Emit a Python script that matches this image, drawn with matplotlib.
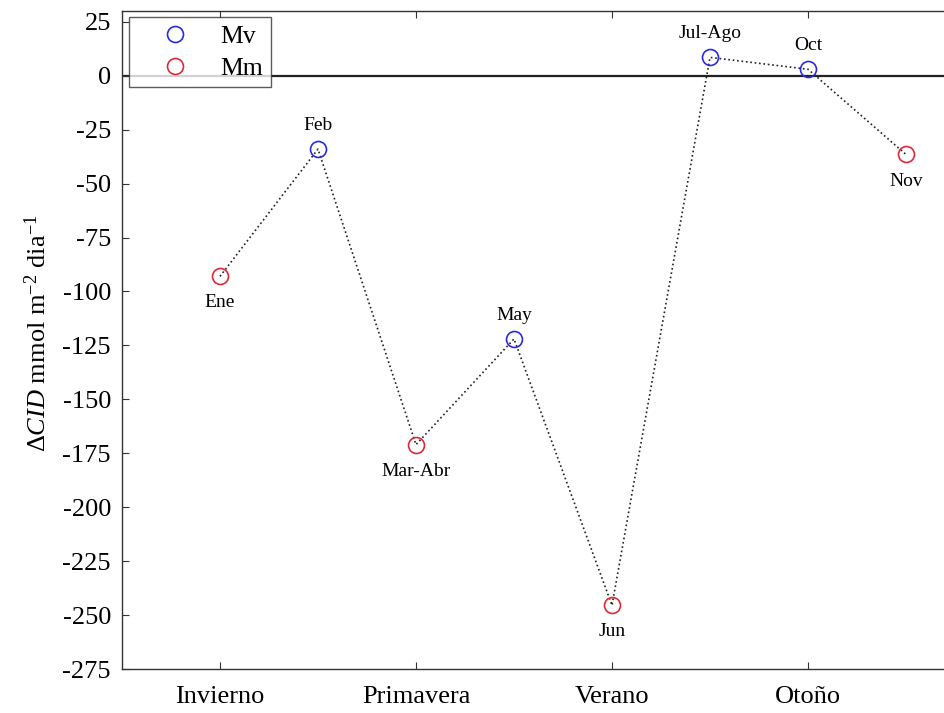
import numpy as np
import matplotlib
matplotlib.use("Agg")
import matplotlib.pyplot as plt

plt.rcParams['font.family'] = ['Liberation Serif', 'DejaVu Serif']
plt.rcParams['mathtext.fontset'] = 'custom'
plt.rcParams['mathtext.rm'] = 'Liberation Serif'
plt.rcParams['mathtext.it'] = 'Liberation Serif:italic'
plt.rcParams['axes.unicode_minus'] = False

# data
months = ['Ene', 'Feb', 'Mar-Abr', 'May', 'Jun', 'Jul-Ago', 'Oct', 'Nov']
xpos = [1, 1.5, 2, 2.5, 3, 3.5, 4, 4.5]
dcid = [-93, -34, -171, -122, -245.5, 8.5, 3, -36.5]
kind = ['Mm', 'Mv', 'Mm', 'Mv', 'Mm', 'Mv', 'Mv', 'Mm']
lab_above = [False, True, False, True, False, True, True, False]
seasons = ['Invierno', 'Primavera', 'Verano', 'Otoño']
season_pos = [1, 2, 3, 4]

fig = plt.figure(figsize=(9.45, 7.13), dpi=100)
ax = fig.add_axes([122 / 945, 44 / 713, 882 / 945, 658 / 713])

ax.axhline(0, color='#222222', lw=1.6, zorder=1)
ax.plot(xpos, dcid, ':', color='#222222', lw=1.2, zorder=2)

cols = {'Mv': '#2a2ae0', 'Mm': '#dc2a36'}
for k in ['Mv', 'Mm']:
    xs = [x for x, t in zip(xpos, kind) if t == k]
    ys = [y for y, t in zip(dcid, kind) if t == k]
    ax.plot(xs, ys, 'o', ms=11.5, mfc='none', mec=cols[k], mew=1.2,
            ls='none', label=k, zorder=3)

for x, y, m, up in zip(xpos, dcid, months, lab_above):
    if up:
        ax.annotate(m, (x, y), xytext=(0, 11), textcoords='offset points',
                    ha='center', va='bottom', fontsize=14)
    else:
        ax.annotate(m, (x, y), xytext=(0, -13), textcoords='offset points',
                    ha='center', va='top', fontsize=14)

ax.set_xlim(0.5, 5)
ax.set_ylim(-275, 30)
ax.set_yticks(np.arange(-275, 26, 25))
ax.set_xticks(season_pos)
ax.set_xticklabels(seasons)
ax.tick_params(direction='in', labelsize=19, top=True, right=False,
               length=5, width=0.8, color='#333333')
ax.tick_params(axis='x', pad=12)
ax.tick_params(axis='y', pad=8)
for s in ax.spines.values():
    s.set_color('#333333')
    s.set_linewidth(1.0)
ax.spines['right'].set_visible(False)

ax.set_ylabel(r'$\mathit{ΔCID}$ mmol m$^{\mathregular{-2}}$ dia$^{\mathregular{-1}}$',
              fontsize=19)
ax.yaxis.set_label_coords(-0.081, 0.51)

leg = ax.legend(loc='upper left', bbox_to_anchor=(129 / 945, 1 - 17 / 713),
                bbox_transform=fig.transFigure, borderaxespad=0,
                fontsize=18.5, frameon=True, fancybox=False, edgecolor='#333333',
                handletextpad=0.25, handlelength=3.0, borderpad=0.3,
                labelspacing=0.35)
leg.get_frame().set_linewidth(1.0)

fig.savefig('out.png', dpi=100)
